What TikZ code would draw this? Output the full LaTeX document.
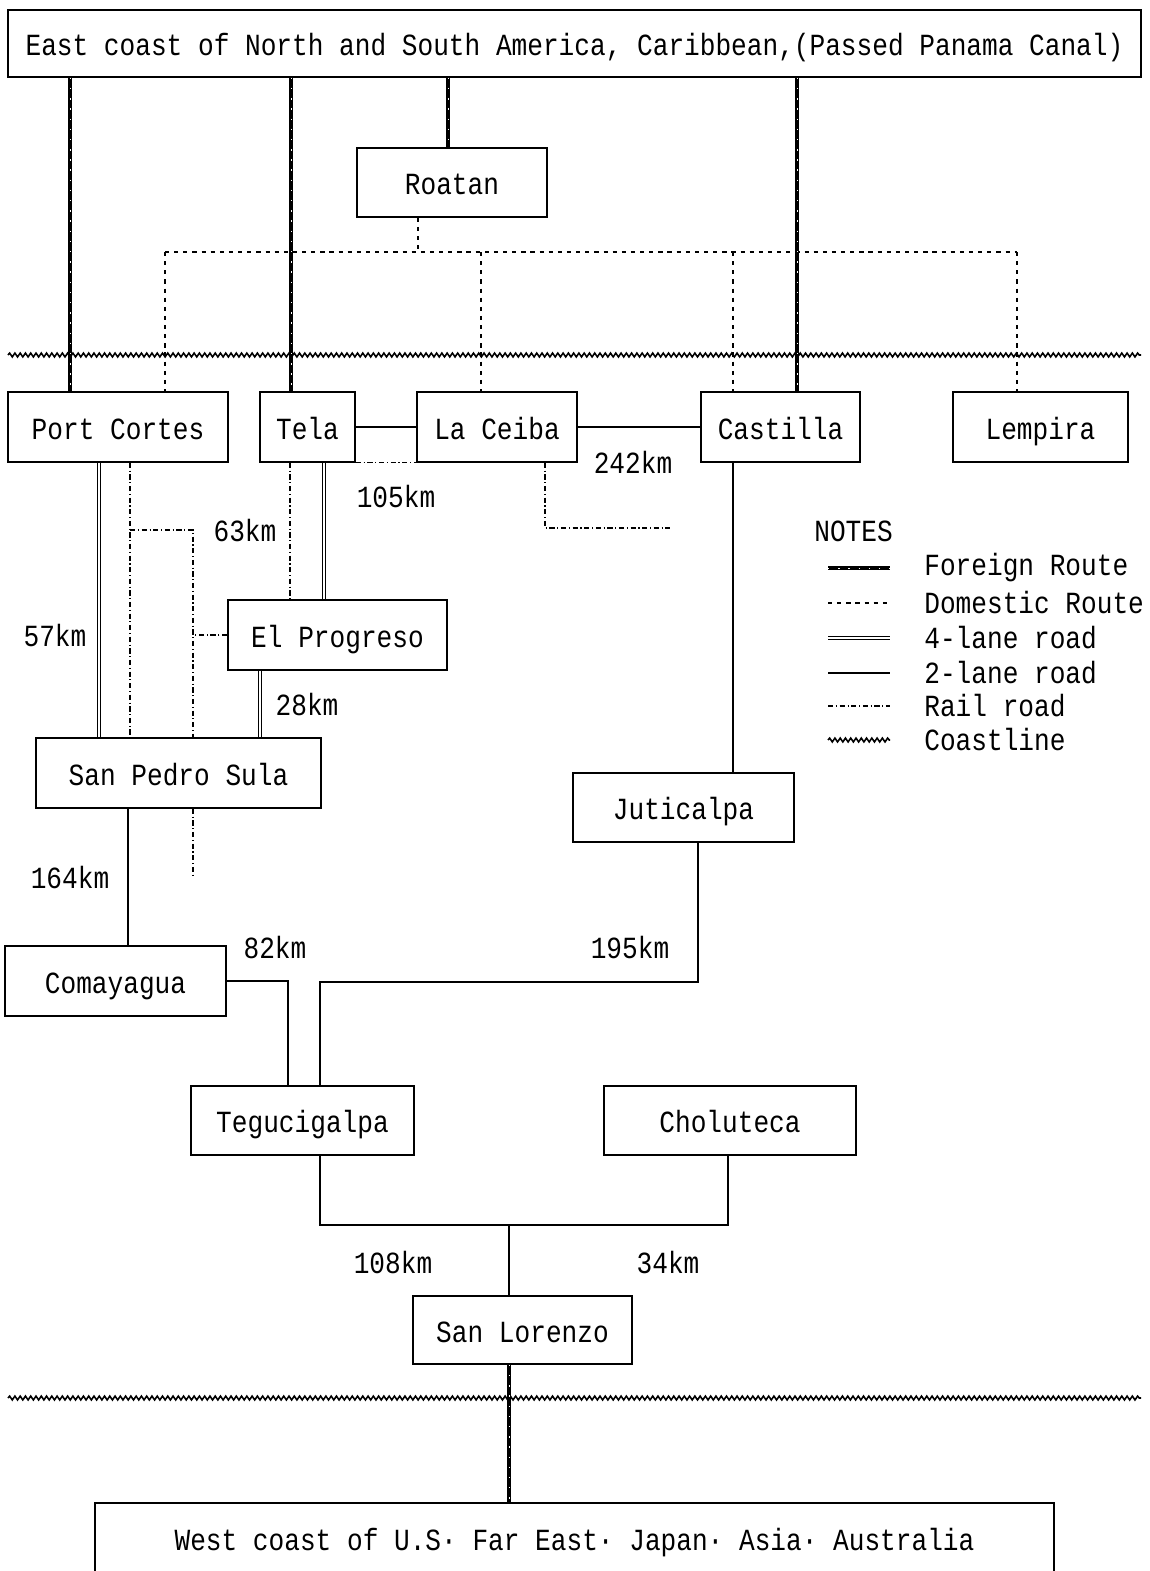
\documentclass[tikz,border=0pt]{standalone}
\usepackage{fontspec}
\newfontfamily\mapfont[FakeStretch=0.85]{Liberation Mono}
\usetikzlibrary{decorations.pathmorphing}

\tikzset{
  box/.style={draw, line width=0.9pt, minimum height=1.4cm, inner sep=0pt,
    text height=14pt, text depth=0pt,
    font=\mapfont\fontsize{17.5}{20}\selectfont},
  lbl/.style={inner sep=0pt, font=\mapfont\fontsize{17.5}{20}\selectfont},
  foreign/.style={line width=2.3pt,
    postaction={draw=white, line width=0.5pt, dash pattern=on 0.8pt off 5pt}},
  domestic/.style={line width=1.2pt, dash pattern=on 2.4pt off 2.8pt},
  fourlane/.style={double, double distance=1.6pt, line width=0.6pt},
  twolane/.style={line width=1.3pt},
  rail/.style={line width=0.8pt, dash pattern=on 3pt off 1.5pt on 0.6pt off 1.5pt},
  coast/.style={line width=0.9pt, decorate,
    decoration={snake, amplitude=1.1pt, segment length=3pt}}
}

\begin{document}
\begin{tikzpicture}[x=0.02cm, y=-0.02cm]
\clip (0,0) rectangle (1149,1571);

% coastlines
\draw[coast] (8,355) -- (1141,355);
\draw[coast] (8,1398) -- (1141,1398);

% places
\node[box, minimum width=22.66cm, minimum height=1.34cm] (top) at (574.5,43.5) {East coast of North and South America, Caribbean,(Passed Panama Canal)};
\node[box, minimum width=3.8cm, minimum height=1.38cm] (roatan) at (452,182.5) {Roatan};
\node[box, minimum width=4.4cm] (pc) at (118,427) {Port Cortes};
\node[box, minimum width=1.9cm] (tela) at (307.5,427) {Tela};
\node[box, minimum width=3.2cm] (ceiba) at (497,427) {La Ceiba};
\node[box, minimum width=3.18cm] (castilla) at (780.5,427) {Castilla};
\node[box, minimum width=3.5cm] (lempira) at (1040.5,427) {Lempira};
\node[box, minimum width=4.38cm] (ep) at (337.5,635) {El Progreso};
\node[box, minimum width=5.7cm] (sps) at (178.5,773) {San Pedro Sula};
\node[box, minimum width=4.42cm, minimum height=1.38cm] (juti) at (683.5,807.5) {Juticalpa};
\node[box, minimum width=4.42cm] (coma) at (115.5,981) {Comayagua};
\node[box, minimum width=4.46cm, minimum height=1.38cm] (tegu) at (302.5,1120.5) {Tegucigalpa};
\node[box, minimum width=5.04cm, minimum height=1.38cm] (chol) at (730,1120.5) {Choluteca};
\node[box, minimum width=4.38cm, minimum height=1.36cm] (slor) at (522.5,1330) {San Lorenzo};
\node[box, minimum width=19.18cm] (west) at (574.5,1538) {West coast of U.S· Far East· Japan· Asia· Australia};

% columns of the routes
\coordinate (fpc) at (70,0);
\coordinate (ftela) at (291,0);
\coordinate (froatan) at (448,0);
\coordinate (fcast) at (797,0);
\coordinate (fslor) at (509,0);
\coordinate (droat) at (418,0);
\coordinate (dpc) at (165,0);
\coordinate (dceiba) at (481,0);
\coordinate (dcast) at (733,0);
\coordinate (dlemp) at (1017,0);
\coordinate (dom) at (0,252);
\coordinate (qpc) at (99,0);
\coordinate (qtela) at (324,0);
\coordinate (qep) at (260,0);
\coordinate (rpc) at (130,0);
\coordinate (rbr) at (193,0);
\coordinate (rtela) at (290,0);
\coordinate (rceiba) at (545,0);
\coordinate (tsps) at (128,0);
\coordinate (tcoma) at (288,0);
\coordinate (tjuti) at (698,0);
\coordinate (ttegu) at (320,0);
\coordinate (tchol) at (728,0);
\coordinate (rj) at (130,530);
\coordinate (rend) at (193,877);
\coordinate (rce) at (670,528);
\coordinate (jn) at (509,1224);

% domestic routes
\draw[domestic] (roatan.south -| droat) -- (droat |- dom);
\draw[domestic] (dpc |- dom) -- (dlemp |- dom);
\foreach \c/\n in {dpc/pc, dceiba/ceiba, dcast/castilla, dlemp/lempira}
  \draw[domestic] (\c |- dom) -- (\n.north -| \c);

% foreign routes
\foreach \c/\n in {fpc/pc, ftela/tela, froatan/roatan, fcast/castilla}
  \draw[foreign] (top.south -| \c) -- (\n.north -| \c);
\draw[foreign] (slor.south -| fslor) -- (west.north -| fslor);

% roads
\draw[twolane] (tela.east) -- (ceiba.west);
\draw[twolane] (ceiba.east) -- (castilla.west);
\draw[twolane] (castilla.south -| dcast) -- (juti.north -| dcast);
\draw[twolane] (juti.south -| tjuti) -- ++(0,139) -| (tegu.north -| ttegu);
\draw[twolane] (coma.east) -| (tegu.north -| tcoma);
\draw[twolane] (sps.south -| tsps) -- (coma.north -| tsps);
\draw[twolane] (tegu.south -| ttegu) -- ++(0,69) -| (chol.south -| tchol);
\draw[twolane] (jn) -- (slor.north -| jn);
\draw[fourlane] (pc.south -| qpc) -- (sps.north -| qpc);
\draw[fourlane] (tela.south -| qtela) -- (ep.north -| qtela);
\draw[fourlane] (ep.south -| qep) -- (sps.north -| qep);

% rail roads
\draw[rail] (tela.south east) -- (ceiba.south west);
\draw[rail] (pc.south -| rpc) -- (sps.north -| rpc);
\draw[rail] (rj) -| (sps.north -| rbr);
\draw[rail] (sps.south -| rbr) -- (rend);
\draw[rail] (ep.west) -- (ep.west -| rbr);
\draw[rail] (tela.south -| rtela) -- (ep.north -| rtela);
\draw[rail] (ceiba.south -| rceiba) |- (rce);

% distances
\node[lbl] (k105) at (396,497) {105km};
\node[lbl] (k242) at (633,462) {242km};
\node[lbl] (k63) at (245,531) {63km};
\node[lbl] (k57) at (55,636) {57km};
\node[lbl] (k28) at (307,705) {28km};
\node[lbl] (k164) at (70,877) {164km};
\node[lbl] (k82) at (275,947) {82km};
\node[lbl] (k195) at (630,947) {195km};
\node[lbl] (k108) at (393,1262) {108km};
\node[lbl] (k34) at (668,1262) {34km};

% notes
\node[lbl, anchor=west] (notes) at (814,531) {NOTES};
\foreach \sty/\txt/\yy [count=\i] in {foreign/Foreign Route/568, domestic/Domestic Route/603,
    fourlane/4-lane road/638, twolane/2-lane road/673, rail/Rail road/706, coast/Coastline/740}{
  \node[lbl, anchor=west] (note\i) at (924,\yy) {\txt};
  \draw[\sty] (828,\yy) -- (890,\yy);
}

\end{tikzpicture}
\end{document}
